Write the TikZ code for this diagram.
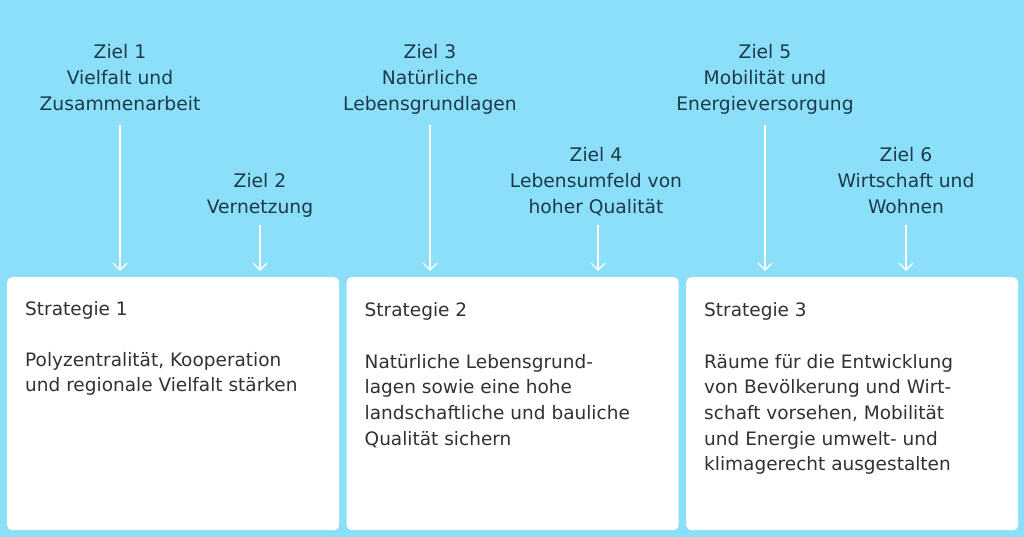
\documentclass[tikz,border=0pt]{standalone}
\usepackage{fontspec}
\setmainfont{DejaVu Sans}
\usetikzlibrary{arrows.meta}
\usetikzlibrary{positioning}
\definecolor{skyblue}{RGB}{140,223,249}
\definecolor{goalink}{RGB}{28,58,74}
\definecolor{strategyink}{RGB}{50,50,50}
\tikzstyle{goal_label} = [
    goalink,
    font=\fontsize{18.7}{25.7}\selectfont,
    align=center,
    inner sep=0pt,
    execute at begin node=\strut,
    execute at end node=\strut,
    anchor=north
]
\tikzstyle{strategy_box} = [
    rounded corners=5pt,
    fill=white,
    anchor=north west,
    inner sep=0pt,
    minimum width=332pt,
    minimum height=253pt
]
\tikzstyle{strategy_title} = [
    strategyink,
    font=\fontsize{18.5}{25.6}\selectfont,
    align=left,
    inner sep=0pt,
    anchor=base west
]
\tikzstyle{strategy_body} = [
    strategy_title,
    execute at begin node=\strut,
    anchor=north west
]
\tikzstyle{goal_arrow} = [
    white,
    line width=1.3pt,
    -{Straight Barb[length=7pt,width=14pt]},
    shorten >=6pt
]

\begin{document}
\begin{tikzpicture}[x=1pt, y=-1pt]
\useasboundingbox (0,0) rectangle (1024,537);
\fill[skyblue] (0,0) rectangle (1024,537);

% goals (first baseline 18pt under the node top)
\node [goal_label] (ziel1) at (120,44.5) {Ziel 1\\Vielfalt und\\Zusammenarbeit};
\node [goal_label] (ziel2) at (260,173.5) {Ziel 2\\Vernetzung};
\node [goal_label] (ziel3) at (430,44.5) {Ziel 3\\Natürliche\\Lebensgrundlagen};
\node [goal_label] (ziel4) at (596,147.5) {Ziel 4\\Lebensumfeld von\\hoher Qualität};
\node [goal_label] (ziel5) at (765,44.5) {Ziel 5\\Mobilität und\\Energieversorgung};
\node [goal_label] (ziel6) at (906,147.5) {Ziel 6\\Wirtschaft und\\Wohnen};

% strategies
\node [strategy_box] (strat1) at (7,277) {};
\node [strategy_box] (strat2) at (346.5,277) {};
\node [strategy_box] (strat3) at (686,277) {};

\node [strategy_title] (title1) at ([xshift=18pt,yshift=-38pt]strat1.north west) {Strategie 1};
\node [strategy_title] (title2) at ([xshift=18pt,yshift=-39pt]strat2.north west) {Strategie 2};
\node [strategy_title] (title3) at ([xshift=18pt,yshift=-39pt]strat3.north west) {Strategie 3};

\node [strategy_body] (body1) at ([yshift=-37pt]title1.base west)
    {Polyzentralität, Kooperation\\und regionale Vielfalt stärken};
\node [strategy_body] (body2) at ([yshift=-38pt]title2.base west)
    {Natürliche Lebensgrund-\\lagen sowie eine hohe\\landschaftliche und bauliche\\Qualität sichern};
\node [strategy_body] (body3) at ([yshift=-38pt]title3.base west)
    {Räume für die Entwicklung\\von Bevölkerung und Wirt-\\schaft vorsehen, Mobilität\\und Energie umwelt- und\\klimagerecht ausgestalten};

% arrows
\draw [goal_arrow, shorten <=7pt] (ziel1.south) -- (ziel1.south |- strat1.north);
\draw [goal_arrow, shorten <=3.5pt] (ziel2.south) -- (ziel2.south |- strat1.north);
\draw [goal_arrow, shorten <=7pt] (ziel3.south) -- (ziel3.south |- strat2.north);
\draw [goal_arrow, shorten <=3.5pt] ([xshift=2pt]ziel4.south) -- ([xshift=2pt]ziel4.south |- strat2.north);
\draw [goal_arrow, shorten <=7pt] (ziel5.south) -- (ziel5.south |- strat3.north);
\draw [goal_arrow, shorten <=3.5pt] (ziel6.south) -- (ziel6.south |- strat3.north);
\end{tikzpicture}
\end{document}
